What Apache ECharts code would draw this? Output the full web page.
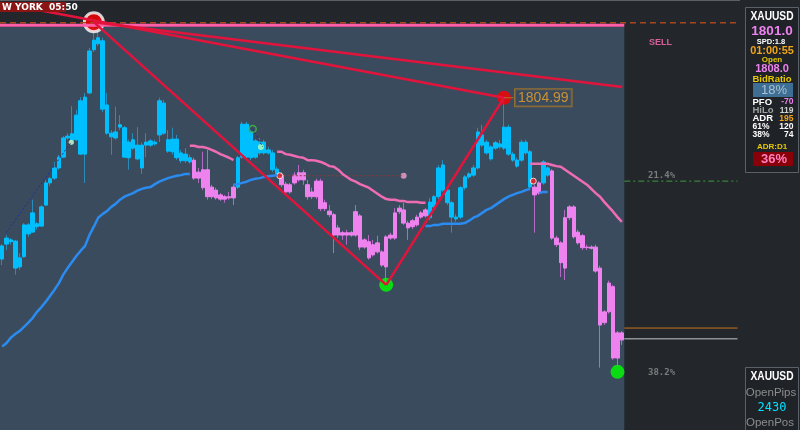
<!DOCTYPE html>
<html><head><meta charset="utf-8">
<script src="https://cdn.jsdelivr.net/npm/echarts@6/dist/echarts.min.js"></script>
<style>html,body{margin:0;padding:0;background:#23272c;}#c{width:800px;height:430px;}</style>
</head><body><div id="c"></div>
<script>
// ---- candle data (price) ----
const trendStr = "CCCCCCCCCC CCCCCCCCCC CCCCCCCCCC CCCCCCCCCC CCCC PPPPPPPPPP CCCCCCCCCC PPPPPPPPPP PPPPPPPPPP PPPPPPPPPP PPPP CCCCCCCCCC CCCCCCCCCC CCCC PP CC PPPPPPPPPP PPPPPPP";
const open = [
1802.30,1802.55,1802.59,1802.15,1802.17,1802.34,1802.72,1802.75,1802.84,1802.85,
1803.20,1803.57,1803.65,1803.82,1804.00,1804.32,1804.22,1804.29,1804.05,1804.05,
1805.07,1805.79,1805.89,1804.80,1804.40,1804.34,1804.32,1804.50,1804.00,1803.99,
1804.15,1803.97,1803.82,1804.20,1804.20,1804.22,1804.37,1804.40,1804.10,1804.09,
1803.99,1803.94,1803.94,1803.92,1803.95,1803.75,1803.79,1803.79,1803.50,1803.45,
1803.37,1803.34,1803.34,1803.50,1803.50,1804.00,1804.00,1803.99,1804.00,1804.07,
1804.07,1804.07,1803.79,1803.72,1803.70,1803.55,1803.54,1803.70,1803.74,1803.74,
1803.54,1803.42,1803.60,1803.60,1803.24,1803.10,1803.04,1802.82,1802.74,1802.74,
1802.74,1803.09,1803.02,1802.62,1802.59,1802.54,1802.57,1802.42,1802.67,1802.70,
1803.07,1803.15,1803.12,1802.90,1802.94,1803.00,1803.07,1803.12,1802.99,1803.17,
1803.34,1803.45,1803.24,1803.00,1802.97,1803.00,1803.49,1803.67,1803.70,1803.82,
1804.20,1804.07,1803.97,1804.15,1804.17,1804.15,1804.05,1803.95,1803.85,1803.95,
1804.07,1803.50,1803.50,1803.57,1803.57,1803.70,1803.77,1802.65,1802.57,1802.99,
1803.17,1803.17,1802.75,1802.69,1802.50,1802.50,1802.50,1802.15,1801.42,1801.90,
1801.84,1801.07,1801.07];
const close = [
1802.52,1802.65,1802.62,1802.60,1802.32,1802.87,1802.87,1803.07,1802.89,1803.17,
1803.57,1803.64,1803.82,1804.00,1804.32,1804.35,1804.39,1804.70,1804.94,1805.00,
1805.77,1805.95,1805.99,1805.94,1804.87,1804.40,1804.42,1804.54,1804.49,1804.25,
1804.29,1804.20,1804.20,1804.25,1804.27,1804.25,1804.94,1804.90,1804.29,1804.30,
1804.30,1804.07,1804.05,1803.99,1803.65,1803.65,1803.49,1803.34,1803.34,1803.32,
1803.30,1803.30,1803.32,1803.32,1803.99,1804.55,1804.55,1804.42,1804.27,1804.25,
1804.25,1804.12,1804.07,1803.80,1803.54,1803.42,1803.42,1803.57,1803.62,1803.62,
1803.34,1803.34,1803.34,1803.14,1803.14,1803.04,1802.70,1802.70,1802.70,1802.70,
1802.70,1802.70,1802.50,1802.50,1802.32,1802.37,1802.42,1802.20,1802.17,1802.65,
1802.65,1803.09,1802.90,1802.82,1802.84,1802.87,1803.00,1803.02,1803.25,1803.34,
1803.82,1803.87,1803.45,1803.24,1803.00,1803.49,1803.67,1803.72,1803.82,1804.42,
1804.37,1804.25,1804.17,1804.24,1804.22,1804.50,1804.50,1804.05,1803.95,1804.25,
1804.25,1804.09,1803.37,1803.40,1803.92,1803.82,1802.65,1802.54,1802.24,1802.15,
1802.99,1802.67,1802.57,1802.49,1802.49,1802.48,1802.10,1801.20,1801.24,1801.42,
1800.65,1800.65,1800.95];
const low = [
1802.20,1802.45,1802.54,1802.04,1802.12,1802.32,1802.67,1802.74,1802.79,1802.84,
1803.19,1803.52,1803.62,1803.79,1803.99,1804.29,1804.20,1804.27,1804.04,1803.57,
1805.05,1805.75,1805.85,1804.75,1804.37,1804.04,1804.29,1804.45,1803.99,1803.79,
1804.12,1803.95,1803.72,1804.00,1804.17,1804.19,1804.25,1804.37,1804.07,1804.04,
1803.95,1803.90,1803.90,1803.89,1803.62,1803.57,1803.45,1803.29,1803.30,1803.29,
1803.27,1803.24,1803.29,1803.20,1803.47,1803.97,1803.95,1803.95,1803.97,1804.04,
1804.04,1804.04,1803.75,1803.69,1803.50,1803.39,1803.39,1803.54,1803.59,1803.54,
1803.29,1803.30,1803.30,1803.10,1803.10,1803.00,1802.40,1802.65,1802.62,1802.54,
1802.67,1802.67,1802.45,1802.47,1802.29,1802.34,1802.39,1802.17,1801.90,1802.62,
1802.62,1803.05,1802.87,1802.62,1802.80,1802.84,1802.97,1802.99,1802.95,1803.14,
1803.30,1803.42,1803.20,1802.74,1802.92,1802.97,1803.45,1803.64,1803.67,1803.79,
1804.17,1804.04,1803.94,1804.12,1804.14,1804.12,1804.02,1803.92,1803.82,1803.92,
1804.04,1803.47,1802.74,1803.37,1803.54,1803.67,1802.62,1802.50,1802.00,1801.95,
1802.95,1802.64,1802.54,1802.45,1802.45,1802.46,1802.07,1800.49,1801.20,1801.39,
1800.62,1800.52,1800.87];
const high = [
1802.55,1802.70,1802.65,1802.62,1802.40,1802.90,1802.90,1803.29,1802.92,1803.20,
1803.62,1803.67,1803.92,1804.04,1804.35,1804.40,1804.85,1804.79,1805.00,1805.07,
1805.82,1806.19,1806.12,1805.99,1805.07,1804.45,1804.84,1804.70,1804.52,1804.29,
1804.40,1804.50,1804.24,1804.40,1804.30,1804.29,1804.99,1804.95,1804.45,1804.49,
1804.37,1804.12,1804.15,1804.04,1803.99,1803.82,1804.09,1804.12,1803.54,1803.49,
1803.40,1803.37,1803.42,1803.54,1804.02,1804.59,1804.59,1804.45,1804.30,1804.32,
1804.29,1804.17,1804.12,1803.84,1803.74,1803.59,1803.57,1803.75,1803.87,1803.79,
1803.62,1803.49,1803.64,1803.64,1803.29,1803.20,1803.07,1802.87,1802.77,1802.79,
1802.77,1803.20,1803.05,1802.65,1802.70,1802.62,1802.69,1802.45,1802.70,1802.74,
1803.15,1803.20,1803.24,1802.94,1802.97,1803.04,1803.10,1803.15,1803.32,1803.37,
1803.87,1803.95,1803.49,1803.27,1803.05,1803.52,1803.70,1803.75,1803.87,1804.49,
1804.54,1804.29,1804.20,1804.27,1804.29,1804.99,1804.54,1804.09,1803.99,1804.29,
1804.29,1804.12,1803.54,1803.60,1803.95,1803.85,1803.80,1802.69,1802.60,1803.12,
1803.20,1803.20,1802.79,1802.72,1802.54,1802.53,1802.54,1802.19,1801.45,1801.94,
1801.87,1801.10,1801.10];

// ---- trend MA segments: [startIndex, values] ----
const blueMA = [
 [0,[1800.84,1800.90,1800.99,1801.05,1801.10,1801.17,1801.24,1801.32,1801.42,1801.50,
     1801.59,1801.69,1801.79,1801.90,1802.04,1802.15,1802.25,1802.35,1802.44,1802.52,
     1802.70,1802.84,1802.99,1803.05,1803.10,1803.17,1803.22,1803.29,1803.34,1803.37,
     1803.40,1803.44,1803.47,1803.49,1803.50,1803.55,1803.59,1803.62,1803.65,1803.67,
     1803.69,1803.70,1803.72,1803.72]],
 [53,[1803.54,1803.55,1803.57,1803.59,1803.62,1803.64,1803.65,1803.67,1803.68,1803.69,1803.70]],
 [97,[1802.85,1802.85,1802.87,1802.87,1802.89,1802.89,1802.89,1802.89,1802.89,1802.90,
      1802.94,1802.99,1803.02,1803.07,1803.12,1803.15,1803.20,1803.25,1803.30,1803.34,
      1803.37,1803.40,1803.42,1803.45,1803.47]],
 [123,[1803.40,1803.42,1803.42]]
];
const pinkMA = [
 [43,[1804.19,1804.19,1804.17,1804.17,1804.15,1804.12,1804.09,1804.05,1804.02,1803.99,1803.95]],
 [63,[1804.09,1804.09,1804.05,1804.04,1804.02,1804.00,1803.99,1803.95,1803.95,1803.94,
      1803.92,1803.89,1803.85,1803.84,1803.79,1803.72,1803.67,1803.62,1803.59,1803.55,
      1803.52,1803.49,1803.44,1803.39,1803.34,1803.30,1803.29,1803.29,1803.27,1803.27,
      1803.25,1803.25,1803.25,1803.24,1803.24]],
 [121,[1803.89,1803.89,1803.89,1803.89,1803.89,1803.87,1803.85,1803.84,1803.79,1803.74,
       1803.69,1803.64,1803.59,1803.54,1803.47,1803.40,1803.34,1803.25,1803.17,1803.09,
       1803.00,1802.92]]
];

// ---- swing points [index, price] ----
const peakPt = [21, 1806.25];
const lowPt = [88, 1801.87];
const highPt = [115, 1804.99];
const lastLowPt = [141, 1800.42];
const trendLineA = [[-0.23, 1806.57], [115, 1804.99]];
const trendLineB = [[21, 1806.25], [142.1, 1805.17]];

// ---- levels ----
const bgTop = 1806.17, pinkLevel = 1806.20, brownLevel = 1806.24;
const fib214 = 1803.60, askLevel = 1801.15, bidLevel = 1800.97;
const dottedRed = [[63.6, 1803.69], [92.0, 1803.69]];
const dottedBlue1 = [[0.9, 1802.74], [15.8, 1804.25]];
const dottedBlue2 = [[57.4, 1804.47], [59.7, 1804.17]];

const YMIN = 1799.45, YMAX = 1806.62;
const SLOTS = 169;
const LAST_X = 142.56, RIGHT_X = 168.5;

const N = open.length;
const trend = trendStr.replace(/\s/g, '').split('');
const cats = []; for (let i = 0; i < SLOTS; i++) cats.push(String(i));
function seg(segments) {
  const a = new Array(N).fill(null);
  segments.forEach(([s, vals]) => vals.forEach((v, k) => { a[s + k] = v; }));
  return a;
}
const E = ['-', '-', '-', '-'];
const wickC = [], bodyC = [], wickP = [], bodyP = [];
for (let i = 0; i < N; i++) {
  const d = [open[i], close[i], low[i], high[i]];
  const b = [open[i], close[i], Math.min(open[i], close[i]), Math.max(open[i], close[i])];
  if (trend[i] === 'C') { wickC.push(d); bodyC.push(b); wickP.push(E); bodyP.push(E); }
  else { wickP.push(d); bodyP.push(b); wickC.push(E); bodyC.push(E); }
}

function candle(data, fill, border, w) {
  return { type: 'candlestick', xAxisIndex: 0, yAxisIndex: 0, data: data, barWidth: w,
    itemStyle: { color: fill, color0: fill, borderColor: border, borderColor0: border, borderWidth: 1 },
    silent: true };
}
function seg2(data, color, width, type, extra) {
  return Object.assign({ type: 'line', xAxisIndex: 1, yAxisIndex: 0, data: data, symbol: 'none',
    silent: true, lineStyle: { color: color, width: width, type: type || 'solid' } }, extra || {});
}

const C = { cyan: '#00bfff', cyanWick: '#2b8cba', pink: '#ee82ee', pinkWick: '#b46ac4' };

const option = {
  animation: false,
  backgroundColor: '#23272c',
  grid: { left: -1, right: 62.5, top: 0, bottom: 0 },
  xAxis: [
    { type: 'category', data: cats, boundaryGap: true, show: false },
    { type: 'value', min: -0.5, max: SLOTS - 0.5, show: false }
  ],
  yAxis: [{ type: 'value', min: YMIN, max: YMAX, show: false, scale: true }],
  series: [
    { type: 'line', xAxisIndex: 1, data: [], silent: true,
      markArea: { silent: true, itemStyle: { color: '#3b4b5e' },
        data: [[{ coord: [-0.5, bgTop] }, { coord: [LAST_X, YMIN] }]] } },
    seg2([[-0.5, brownLevel], [RIGHT_X, brownLevel]], '#a9461c', 1.5, [6, 4]),
    seg2([[-0.5, pinkLevel], [LAST_X, pinkLevel]], '#ff5fa8', 3),
    seg2([[LAST_X, fib214], [RIGHT_X, fib214]], '#3c9a3c', 1, [6, 3, 2, 3]),
    seg2([[LAST_X, askLevel], [RIGHT_X, askLevel]], '#c8731c', 1),
    seg2([[LAST_X, bidLevel], [RIGHT_X, bidLevel]], '#c8c8c8', 1),
    seg2(dottedBlue1, '#1c2f9a', 1, [2, 2]),
    seg2(dottedBlue2, '#1c2f9a', 1, [2, 2]),
    seg2(dottedRed, '#8a3a3a', 1, [2, 2]),
    candle(wickC, 'transparent', C.cyanWick, 1),
    candle(wickP, 'transparent', C.pinkWick, 1),
    candle(bodyC, C.cyan, C.cyan, 4),
    candle(bodyP, C.pink, C.pink, 4),
    { type: 'line', xAxisIndex: 0, data: seg(blueMA), symbol: 'none', connectNulls: false, silent: true,
      lineStyle: { color: '#2a8cf0', width: 2.5 } },
    { type: 'line', xAxisIndex: 0, data: seg(pinkMA), symbol: 'none', connectNulls: false, silent: true,
      lineStyle: { color: '#f06cb4', width: 2.5 } },
    seg2(trendLineA, '#e2143c', 2.5),
    seg2(trendLineB, '#e2143c', 2.5),
    seg2([peakPt, lowPt], '#e2143c', 2.5),
    seg2([lowPt, highPt], '#e2143c', 2.5),
    seg2([highPt, [117.2, 1804.99]], '#a8782a', 1),
    { type: 'scatter', xAxisIndex: 1, silent: true, symbol: 'circle',
      data: [
        { value: peakPt, symbolSize: 19, itemStyle: { color: '#ff0000', borderColor: '#ffffff', borderWidth: 3 } },
        { value: highPt, symbolSize: 14, itemStyle: { color: '#ff0000' },
          label: { show: true, formatter: '1804.99', position: 'right', distance: 4, color: '#f0a22a',
            fontSize: 14, fontFamily: '"Liberation Sans", Arial, sans-serif', borderColor: '#a8782a', borderWidth: 1,
            padding: [2, 3, 1, 3], backgroundColor: 'rgba(59,75,94,0.6)' } },
        { value: lowPt, symbolSize: 14, itemStyle: { color: '#00ff00' } },
        { value: lastLowPt, symbolSize: 14, itemStyle: { color: '#00ff00' } },
        { value: [63.6, 1803.69], symbolSize: 6, itemStyle: { color: '#ff2020', borderColor: '#ffffff', borderWidth: 1 } },
        { value: [92.0, 1803.69], symbolSize: 6, itemStyle: { color: '#f0a0d0' } },
        { value: [121.7, 1803.60], symbolSize: 6, itemStyle: { color: '#ff2020', borderColor: '#ffffff', borderWidth: 1 } },
        { value: [57.4, 1804.47], symbolSize: 7, itemStyle: { color: 'rgba(0,0,0,0)', borderColor: '#40c040', borderWidth: 1.5 } },
        { value: [59.3, 1804.17], symbolSize: 6, itemStyle: { color: '#b0ffb0' } },
        { value: [15.8, 1804.25], symbolSize: 5, itemStyle: { color: '#d8f0b0' } }
      ] }
  ],
  graphic: []
};

function txt(text, x, y, fill, font, align, sx) {
  const el = { type: 'text', silent: true, z: 100, x: x, y: y,
    style: { text: text, x: 0, y: 0, fill: fill, font: font, textAlign: align || 'center', align: align || 'center',
      textVerticalAlign: 'middle', verticalAlign: 'middle' } };
  if (sx) { el.scaleX = sx; }
  return el;
}
function rect(x, y, w, h, fill, stroke) {
  return { type: 'rect', silent: true, z: 99, shape: { x: x, y: y, width: w, height: h },
    style: { fill: fill, stroke: stroke || null, lineWidth: stroke ? 1 : 0 } };
}
const F = '"Liberation Sans", Arial, sans-serif';
const FD = '"DejaVu Sans", sans-serif';
const FM = '"DejaVu Sans Mono", monospace';
option.graphic = [
  rect(0, 0, 740, 1, '#5c6066'),
  rect(0, 2, 66, 10, '#8b1414'),
  txt('W YORK  05:50', 2, 7.5, '#ffffff', 'bold 9px ' + FD, 'left'),
  txt('SELL', 649, 43, '#d8609a', 'bold 9px ' + F, 'left'),
  txt('21.4%', 648, 176, '#7c7c7c', 'bold 9px ' + FM, 'left'),
  txt('38.2%', 648, 373, '#7c7c7c', 'bold 9px ' + FM, 'left'),
  // top info panel
  rect(745.5, 7.5, 53, 165, '#1f2328', '#5a6068'),
  txt('XAUUSD', 772, 17, '#ffffff', 'bold 12px ' + F, 'center', 0.85),
  txt('1801.0', 772, 31.5, '#ee82ee', 'bold 13.5px ' + F),
  txt('SPD:1.8', 771, 41.5, '#ffffff', 'bold 7.5px ' + F),
  txt('01:00:55', 772, 51, '#f0a418', 'bold 11.5px ' + F, 'center', 0.95),
  txt('Open', 772, 60, '#e8c800', 'bold 8px ' + F),
  txt('1808.0', 772, 68.5, '#ee82ee', 'bold 11px ' + F),
  txt('BidRatio', 772, 79, '#e8c800', 'bold 9.5px ' + F),
  rect(753, 83, 40, 14, '#3e6e94'),
  txt('18%', 774, 90.5, '#a9c0d4', '13px ' + F),
  txt('PFO', 752.5, 102, '#ffffff', 'bold 9.5px ' + F, 'left'),
  txt('-70', 793.5, 102, '#ee82ee', 'bold 8.5px ' + F, 'right'),
  txt('HiLo', 752.5, 110.5, '#a0a0a0', 'bold 9.5px ' + F, 'left'),
  txt('119', 793.5, 110.5, '#d0d0d0', 'bold 8.5px ' + F, 'right'),
  txt('ADR', 752.5, 118.5, '#ffffff', 'bold 9.5px ' + F, 'left'),
  txt('195', 793.5, 118.5, '#f0a418', 'bold 8.5px ' + F, 'right'),
  txt('61%', 752.5, 127, '#ffffff', 'bold 8.5px ' + F, 'left'),
  txt('120', 793.5, 127, '#ffffff', 'bold 8.5px ' + F, 'right'),
  txt('38%', 752.5, 135, '#ffffff', 'bold 8.5px ' + F, 'left'),
  txt('74', 793.5, 135, '#ffffff', 'bold 8.5px ' + F, 'right'),
  txt('ADR:D1', 772, 147, '#e8c800', 'bold 8px ' + F),
  rect(753, 152, 40, 14, '#8a0008'),
  txt('36%', 774, 159.5, '#ff80c0', 'bold 13px ' + F),
  // bottom info panel
  rect(745.5, 367.5, 53, 70, '#1f2328', '#5a6068'),
  txt('XAUUSD', 772, 377, '#ffffff', 'bold 12px ' + F, 'center', 0.85),
  txt('OpenPips', 771, 393, '#8c8c8c', '11.5px ' + F),
  txt('2430', 772, 408, '#00e0ff', '12px ' + FM),
  txt('OpenPos', 770, 423, '#8c8c8c', '11.5px ' + F)
];

const chart = echarts.init(document.getElementById('c'), null, { renderer: 'canvas', width: 800, height: 430 });
chart.setOption(option);
</script>
</body></html>
